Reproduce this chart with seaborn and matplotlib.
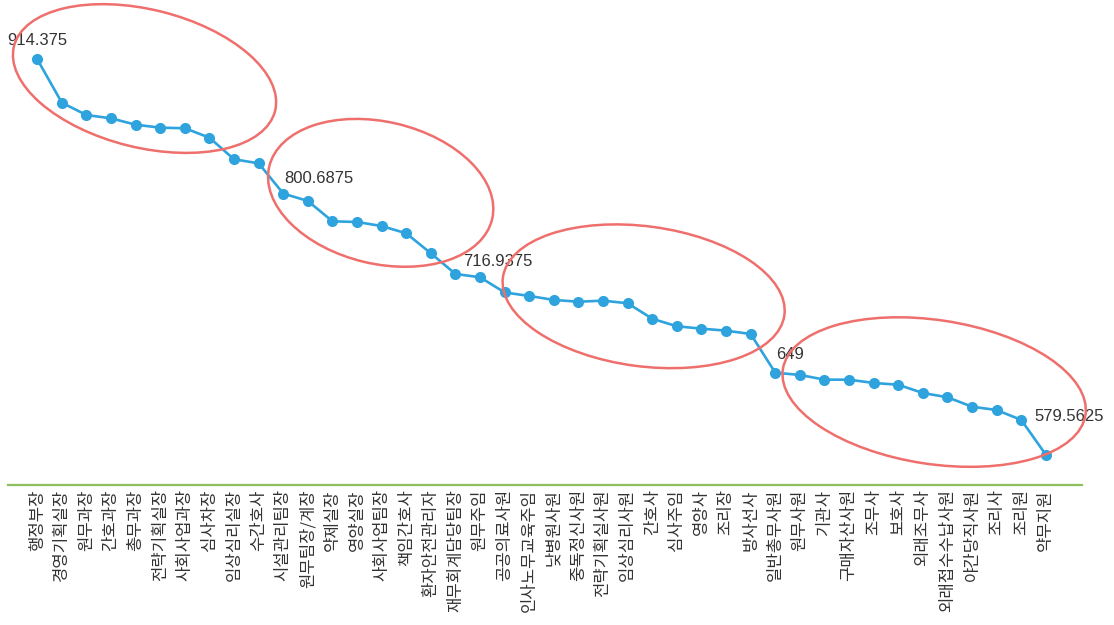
import matplotlib
matplotlib.use("Agg")
import matplotlib.pyplot as plt
import matplotlib.transforms as mtransforms
from matplotlib.patches import Ellipse
import seaborn as sns
import pandas as pd

# ---------------- data ----------------
categories = [
    "행정부장", "경영기획실장", "원무과장", "간호과장", "총무과장", "전략기획실장",
    "사회사업과장", "심사차장", "임상심리실장", "수간호사", "시설관리팀장",
    "원무팀장/계장", "약제실장", "영양실장", "사회사업팀장", "책임간호사",
    "환자안전관리자", "재무회계담당팀장", "원무주임", "공공의료사원",
    "인사노무교육주임", "낮병원사원", "중독정신사원", "전략기획실사원",
    "임상심리사원", "간호사", "심사주임", "영양사", "조리장", "방사선사",
    "일반총무사원", "원무사원", "기관사", "구매자산사원", "조무사", "보호사",
    "외래조무사", "외래접수수납사원", "야간당직사원", "조리사", "조리원", "약무지원",
]
values = [
    914.375, 877.6, 867.2, 864.4, 859.0, 856.5, 856.0, 848.0, 829.7, 826.3,
    800.6875, 794.4, 777.2, 776.6, 773.2, 767.0, 750.1, 732.6, 729.8, 716.9375,
    714.0, 710.6, 709.1, 710.0, 707.8, 694.7, 688.3, 686.3, 684.6, 681.8,
    649.0, 647.1, 643.1, 643.1, 640.3, 638.8, 631.8, 628.2, 620.2, 617.4,
    609.0, 579.5625,
]
label_indices = [0, 10, 19, 30, 41]
label_texts = ["914.375", "800.6875", "716.9375", "649", "579.5625"]

df = pd.DataFrame({"pos": range(len(categories)), "cat": categories, "val": values})

# ---------------- style ----------------
sns.set_theme(style="white")
plt.rcParams["font.family"] = ["Noto Sans CJK KR", "DejaVu Sans"]

W, H, DPI = 1114, 625, 100
fig = plt.figure(figsize=(W / DPI, H / DPI), dpi=DPI)
ax = fig.add_axes([8 / W, 1 - 485 / H, (1082 - 8) / W, 485 / H])

LINE_C = "#2ea3dd"
sns.lineplot(data=df, x="pos", y="val", ax=ax, color=LINE_C, linewidth=1.9,
             marker="o", markersize=8, markeredgewidth=0, sort=False)

ax.set_xlim(-1.19, 42.47)
ax.set_ylim(553.9, 964.6)
ax.set_xticks(df["pos"])
ax.set_xticklabels(df["cat"], rotation=90, fontsize=12, color="#333333",
                   va="top", ha="center")
ax.tick_params(axis="x", length=0, pad=3)
ax.set_yticks([])
ax.set_xlabel("")
ax.set_ylabel("")
for s in ["top", "left", "right"]:
    ax.spines[s].set_visible(False)
ax.spines["bottom"].set_color("#8dbf5a")
ax.spines["bottom"].set_linewidth(1.6)

# value labels (offsets in pixels relative to the point)
offsets = [(-30, 19), (1, 15), (-42, 31), (1, 18), (-11, 38)]
for i, txt, (dx, dy) in zip(label_indices, label_texts, offsets):
    ax.annotate(txt, xy=(df["pos"][i], df["val"][i]), xytext=(dx, dy),
                textcoords="offset pixels", ha="left", va="center",
                fontsize=12, color="#333333", family="Liberation Sans")

# highlight ellipses: center in data coords, size in pixels
ellipses = [
    ((4.36, 898.1), 269, 138, 13.9),
    ((13.96, 801.3), 229, 142, 13.25),
    ((24.65, 713.7), 284, 140, 7.6),
    ((36.46, 632.6), 306, 144, 8.6),
]
for (cx, cy), ew, eh, ang in ellipses:
    dx, dy = ax.transData.transform((cx, cy))
    e = Ellipse((dx, dy), ew, eh, angle=-ang, fill=False, edgecolor="#ef6f6c",
                linewidth=1.8, transform=mtransforms.IdentityTransform(),
                clip_on=False)
    fig.add_artist(e)

fig.savefig("out.png", dpi=DPI)
